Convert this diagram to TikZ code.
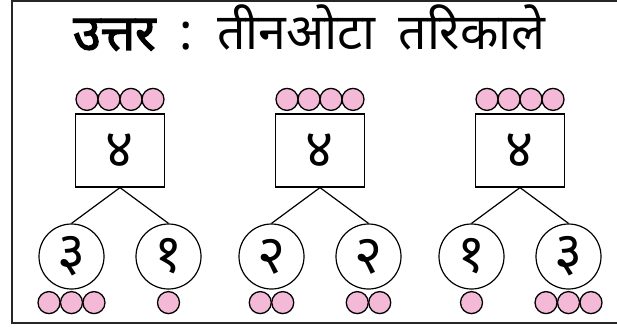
\documentclass[tikz,border=0pt]{standalone}
\usepackage{fontspec}
\newfontfamily\deva[Script=Devanagari]{Noto Sans}
\newfontfamily\devabold[Script=Devanagari, FakeBold=2.5]{Noto Sans}
\usetikzlibrary{calc}
\definecolor{dotpink}{RGB}{243,185,214}
\begin{document}
\begin{tikzpicture}[
        x=1pt, y=1pt,
        level distance=106pt,
        sibling distance=97pt,
        parent anchor=south, child anchor=north,
        every node/.style={font=\deva},
        edge from parent/.style={draw, line width=1.2pt},
        whole/.style={draw, line width=1.2pt, minimum width=89pt, minimum height=73pt,
            inner sep=0pt, font=\deva\fontsize{54}{56}\selectfont},
        part/.style={draw, circle, line width=1.2pt, minimum size=65pt,
            inner sep=0pt, font=\deva\fontsize{54}{56}\selectfont},
        counter/.style={draw, circle, fill=dotpink, line width=1.3pt,
            minimum size=22pt, inner sep=0pt}
    ]
    \useasboundingbox (0,0) rectangle (617,330);
    % frame, cut open on the right
    \coordinate (frameTR) at (617,329.4);
    \coordinate (frameTL) at (11.5,329.4);
    \coordinate (frameBL) at (11.5,7);
    \coordinate (frameBR) at (617,7);
    \draw[line width=2pt, black!85] (frameTR) -- (frameTL) -- (frameBL) -- (frameBR);

    \node[anchor=base west, inner sep=0pt, font=\deva\fontsize{50}{52}\selectfont] (title) at (73,280)
        {{\devabold उत्तर}\hspace{24pt}:\hspace{24pt}तीनओटा\hspace{23pt}तरिकाले};

    % three ways to split four
    \node[whole] (wholeA) at (120,179.5) {४}
        child { node[part] (partA1) {३} }
        child { node[part] (partA2) {१} };
    \node[whole] (wholeB) at (320,179.5) {४}
        child { node[part] (partB1) {२} }
        child { node[part] (partB2) {२} };
    \node[whole] (wholeC) at (520,179.5) {४}
        child { node[part] (partC1) {१} }
        child { node[part] (partC2) {३} };

    % counters above the wholes and below the parts
    \foreach \w in {A,B,C}
        \foreach \i in {1,...,4}
            \node[counter] (top\w\i) at ($(whole\w.north)+({(\i-2.5)*22},14)$) {};
    \foreach \p/\n in {A1/3, A2/1, B1/2, B2/2, C1/1, C2/3}
        \foreach \i in {1,...,\n}
            \node[counter] (bot\p\i) at ($(part\p.south)+({(\i-(\n+1)/2)*22.5},-13)$) {};
\end{tikzpicture}
\end{document}
